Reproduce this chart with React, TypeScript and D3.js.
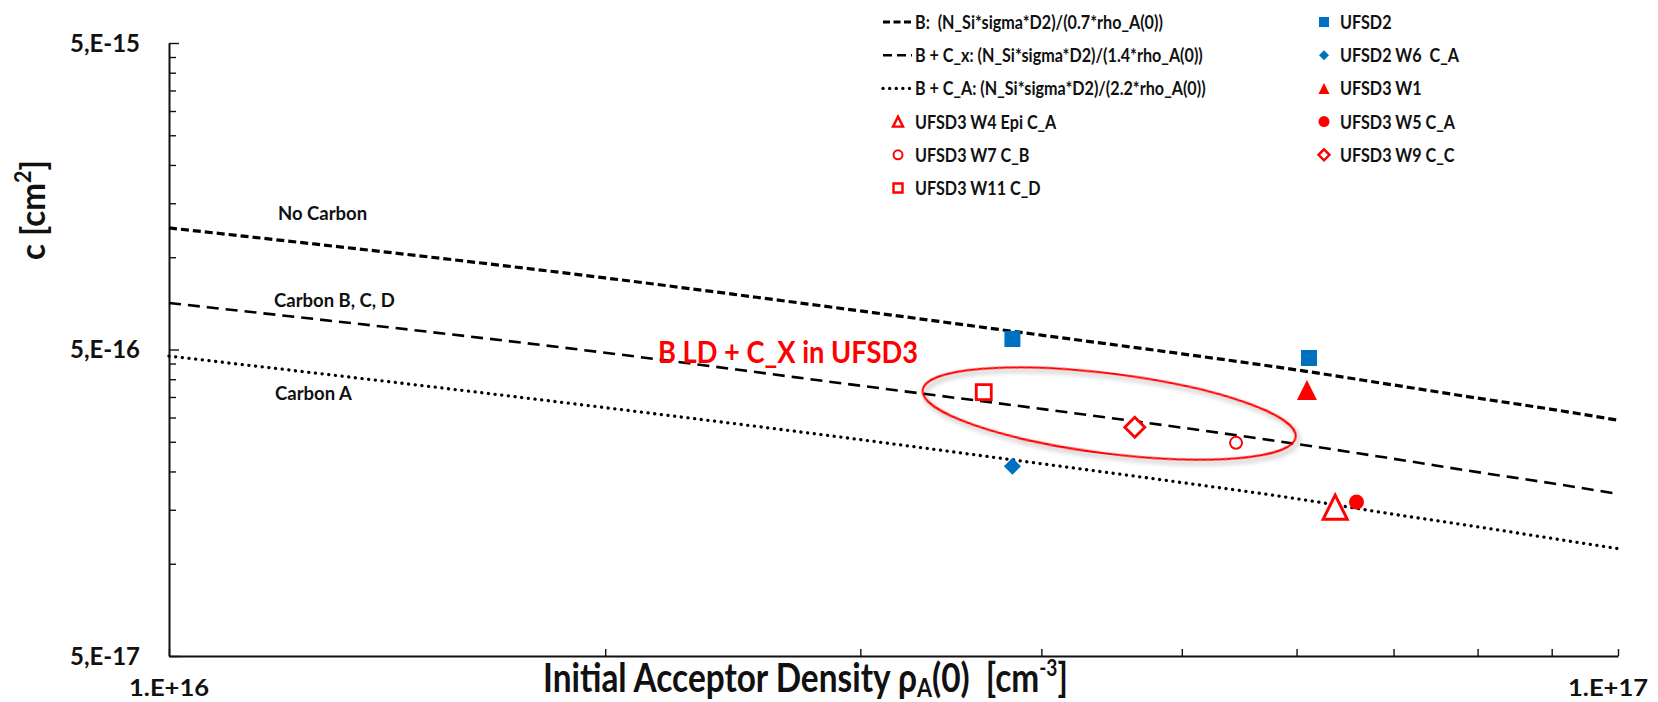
import React, { useEffect, useRef } from "react";
import * as d3 from "d3";

// model curves at these acceptor densities [cm^-3]
const rhoGrid = [1e16, 2e16, 3e16, 4e16, 5e16, 6e16, 7e16, 8e16, 9e16, 1e17];
const cNoCarbon = [1.246e-15, 8.56e-16, 6.68e-16, 5.57e-16, 4.84e-16, 4.29e-16, 3.83e-16, 3.47e-16, 3.19e-16, 2.94e-16];
const cCarbonBCD = [7.09e-16, 4.88e-16, 3.81e-16, 3.2e-16, 2.78e-16, 2.46e-16, 2.2e-16, 1.99e-16, 1.83e-16, 1.69e-16];
const cCarbonA = [4.76e-16, 3.23e-16, 2.54e-16, 2.12e-16, 1.84e-16, 1.63e-16, 1.45e-16, 1.32e-16, 1.21e-16, 1.12e-16];

const curveNames = [
    "B:  (N_Si*sigma*D2)/(0.7*rho_A(0))",
    "B + C_x: (N_Si*sigma*D2)/(1.4*rho_A(0))",
    "B + C_A: (N_Si*sigma*D2)/(2.2*rho_A(0))",
];
const curveLabels = ["No Carbon", "Carbon B, C, D", "Carbon A"];

// measured sensors
const seriesNames = [
    "UFSD2",
    "UFSD2 W6  C_A",
    "UFSD3 W1",
    "UFSD3 W4 Epi C_A",
    "UFSD3 W5 C_A",
    "UFSD3 W7 C_B",
    "UFSD3 W9 C_C",
    "UFSD3 W11 C_D",
];
const seriesRho = [[3.82e16, 6.12e16], [3.82e16], [6.1e16], [6.38e16], [6.6e16], [5.45e16], [4.64e16], [3.65e16]];
const seriesC = [[5.41e-16, 4.69e-16], [2.08e-16], [3.69e-16], [1.53e-16], [1.59e-16], [2.48e-16], [2.79e-16], [3.63e-16]];

// axes
const xDomain = [1e16, 1e17];
const xTickLabels = ["1.E+16", "1.E+17"];
const yMajorTicks = [5e-17, 5e-16, 5e-15];
const yTickLabels = ["5,E-17", "5,E-16", "5,E-15"];

// annotation
const noteText = "B LD + C_X in UFSD3";
const ellipseRho = 4.455e16;
const ellipseC = 3.09e-16;

const BLUE = "#0070C0";
const RED = "#FF0000";
const FONT = "Lato, 'Open Sans', sans-serif";

const curveStyle = [
    {width: 3.2, dash: "8 4", legendDash: "7 3.5", cap: "butt"},
    {width: 2.6, dash: "12 7", legendDash: "9 5", cap: "butt"},
    {width: 3.3, dash: "0.1 6.6", legendDash: "0.1 6.5", cap: "round"},
];

const markerStyle = [
    {shape: "square", color: BLUE, fill: true, size: 16, legend: 10, stroke: 0},
    {shape: "diamond", color: BLUE, fill: true, size: 17, legend: 10, stroke: 0},
    {shape: "triangle", color: RED, fill: true, size: 20, legend: 11, stroke: 0},
    {shape: "triangle", color: RED, fill: false, size: 24, legend: 10, stroke: 3},
    {shape: "circle", color: RED, fill: true, size: 15, legend: 11, stroke: 0},
    {shape: "circle", color: RED, fill: false, size: 12, legend: 9, stroke: 2},
    {shape: "diamond", color: RED, fill: false, size: 20, legend: 11, stroke: 2.8},
    {shape: "square", color: RED, fill: false, size: 15, legend: 9, stroke: 2.8},
];

function markerPath(shape: string, s: number) {
    let h = s / 2;
    if (shape === "square") return `M${-h},${-h}H${h}V${h}H${-h}Z`;
    if (shape === "diamond") return `M0,${-h}L${h},0L0,${h}L${-h},0Z`;
    if (shape === "triangle") return `M0,${-h}L${h},${h}L${-h},${h}Z`;
    return `M${-h},0A${h},${h} 0 1,0 ${h},0A${h},${h} 0 1,0 ${-h},0Z`;
}

function drawMarker(g: any, style: any, size: number, tx: number, ty: number) {
    g.append("path")
        .attr("d", markerPath(style.shape, size))
        .attr("transform", `translate(${tx},${ty})`)
        .attr("fill", style.fill ? style.color : "#fff")
        .attr("stroke", style.fill ? "none" : style.color)
        .attr("stroke-width", style.stroke);
}

// squeeze a text element to a given fraction of its natural width
function condense(sel: any, factor: number) {
    sel.each(function (this: any) {
        let len = this.getComputedTextLength();
        this.setAttribute("textLength", len * factor);
        this.setAttribute("lengthAdjust", "spacingAndGlyphs");
    });
}

export default function App() {
    const ref = useRef<SVGSVGElement>(null);

    useEffect(() => {
        let width = 1658;
        let height = 702;
        let plot = {left: 169, right: 1618, top: 43, bottom: 656};

        let svg = d3.select(ref.current);
        svg.selectAll("*").remove();

        let defs = svg.append("defs");
        let shadow = defs.append("filter")
            .attr("id", "shadow")
            .attr("x", "-20%").attr("y", "-60%")
            .attr("width", "140%").attr("height", "220%");
        shadow.append("feDropShadow")
            .attr("dx", 3).attr("dy", 3)
            .attr("stdDeviation", 2.5)
            .attr("flood-color", "#000")
            .attr("flood-opacity", 0.35);

        svg.append("rect").attr("width", width).attr("height", height).attr("fill", "#fff");

        // scales
        let x = d3.scaleLog().domain(xDomain).range([plot.left, plot.right]);
        let y = d3.scaleLog().domain([yMajorTicks[0], yMajorTicks[2]]).range([plot.bottom, plot.top]);

        // axis
        let xAxis = d3.axisBottom(x)
            .tickValues(x.ticks())
            .tickSizeInner(-7)
            .tickSizeOuter(0)
            .tickFormat(() => "");

        let yMinor = yMajorTicks.slice(0, 2).flatMap(m => d3.range(1, 10).map(k => m * k)).concat([yMajorTicks[2]]);
        let yAxis = d3.axisLeft(y)
            .tickValues(yMinor)
            .tickSizeInner(-7)
            .tickSizeOuter(0)
            .tickFormat(() => "");

        svg.append("g")
            .attr("transform", `translate(0,${plot.bottom})`)
            .call(xAxis)
            .call((g: any) => g.select(".domain").attr("stroke", "#111").attr("stroke-width", 2))
            .call((g: any) => g.selectAll(".tick line").attr("stroke", "#111").attr("stroke-width", 1.4));

        svg.append("g")
            .attr("transform", `translate(${plot.left},0)`)
            .call(yAxis)
            .call((g: any) => g.select(".domain").attr("stroke", "#111").attr("stroke-width", 2))
            .call((g: any) => g.selectAll(".tick line")
                .attr("stroke", "#111")
                .attr("stroke-width", 1.4)
                .attr("x2", (d: number) => yMajorTicks.includes(d) ? 10 : 7));

        // tick labels
        svg.append("g").selectAll("text")
            .data(yMajorTicks)
            .enter()
            .append("text")
            .attr("x", 140)
            .attr("y", d => y(d) + 8.5)
            .attr("text-anchor", "end")
            .attr("font-family", FONT)
            .attr("font-weight", "bold")
            .attr("font-size", 24)
            .attr("fill", "#111")
            .text((d, i) => yTickLabels[i])
            .attr("textLength", 70)
            .attr("lengthAdjust", "spacingAndGlyphs");

        svg.append("g").selectAll("text")
            .data(xDomain)
            .enter()
            .append("text")
            .attr("x", (d, i) => x(d) - i * 10)
            .attr("y", 696)
            .attr("text-anchor", "middle")
            .attr("font-family", FONT)
            .attr("font-weight", "bold")
            .attr("font-size", 23)
            .attr("fill", "#111")
            .text((d, i) => xTickLabels[i])
            .attr("textLength", 80)
            .attr("lengthAdjust", "spacingAndGlyphs");

        // x axis title
        let xTitle = svg.append("g").attr("transform", "translate(543,692)");
        let xt = xTitle.append("text")
            .attr("font-family", FONT)
            .attr("font-weight", "bold")
            .attr("font-size", 40)
            .attr("fill", "#111")
            .style("white-space", "pre");
        xt.append("tspan").text("Initial Acceptor Density \u03C1");
        xt.append("tspan").attr("font-size", 26).attr("dy", 5).text("A");
        xt.append("tspan").attr("dy", -5).text("(0)  [cm");
        xt.append("tspan").attr("font-size", 23).attr("dy", -16).text("-3");
        xt.append("tspan").attr("dy", 16).text("]");
        let xw = (xt.node() as any).getBBox().width;
        xTitle.attr("transform", `translate(543,692) scale(${525 / xw},1)`);

        // y axis title
        let yTitle = svg.append("g").attr("transform", "translate(45,210) rotate(-90)");
        let yt = yTitle.append("text")
            .attr("text-anchor", "middle")
            .attr("font-family", FONT)
            .attr("font-weight", "bold")
            .attr("font-size", 34)
            .attr("fill", "#111");
        yt.append("tspan").text("c [cm");
        yt.append("tspan").attr("font-size", 22).attr("dy", -14).text("2");
        yt.append("tspan").attr("dy", 14).text("]");
        let yw = (yt.node() as any).getBBox().width;
        yTitle.attr("transform", `translate(45,210) rotate(-90) scale(${100 / yw},1)`);

        // model curves
        let curves = [cNoCarbon, cCarbonBCD, cCarbonA];
        let line = d3.line<number>()
            .x((d, i) => x(rhoGrid[i]))
            .y(d => y(d))
            .curve(d3.curveMonotoneX);

        svg.append("g").selectAll("path")
            .data(curves)
            .enter()
            .append("path")
            .attr("d", d => line(d))
            .attr("fill", "none")
            .attr("stroke", "#000")
            .attr("stroke-width", (d, i) => curveStyle[i].width)
            .attr("stroke-dasharray", (d, i) => curveStyle[i].dash)
            .attr("stroke-linecap", (d, i) => curveStyle[i].cap);

        // curve labels
        let labelPos = [[278, 220], [274, 307], [275, 400]];
        svg.append("g").selectAll("text")
            .data(curveLabels)
            .enter()
            .append("text")
            .attr("x", (d, i) => labelPos[i][0])
            .attr("y", (d, i) => labelPos[i][1])
            .attr("font-family", FONT)
            .attr("font-weight", "bold")
            .attr("font-size", 18.5)
            .attr("fill", "#111")
            .text(d => d);

        // annotation
        svg.append("text")
            .attr("x", 658)
            .attr("y", 363)
            .attr("font-family", FONT)
            .attr("font-weight", "bold")
            .attr("font-size", 30)
            .attr("fill", RED)
            .text(noteText)
            .attr("textLength", 260)
            .attr("lengthAdjust", "spacingAndGlyphs");

        svg.append("ellipse")
            .attr("rx", 188)
            .attr("ry", 40)
            .attr("transform", `translate(${x(ellipseRho)},${y(ellipseC)}) rotate(7.2)`)
            .attr("fill", "none")
            .attr("stroke", RED)
            .attr("stroke-width", 2)
            .attr("filter", "url(#shadow)");

        // measured points
        let pts = svg.append("g");
        seriesNames.forEach((name, s) => {
            seriesRho[s].forEach((rho, j) => {
                drawMarker(pts, markerStyle[s], markerStyle[s].size, x(rho), y(seriesC[s][j]));
            });
        });

        // legend, two columns filled row by row
        let entries: any[] = [];
        curveNames.forEach((name, i) => {
            entries.push({type: "curve", name: name, i: i});
            entries.push({type: "series", name: seriesNames[i], i: i});
        });
        for (let s = 3; s < seriesNames.length; s++) entries.push({type: "series", name: seriesNames[s], i: s});

        let legend = svg.append("g");
        entries.forEach((e, k) => {
            let row = Math.floor(k / 2);
            let col = k % 2;
            let cy = 22 + row * 33.2;
            let mx = col === 0 ? 898 : 1324;
            let tx = col === 0 ? 915 : 1340;
            if (e.type === "curve") {
                legend.append("line")
                    .attr("x1", 883).attr("x2", 912)
                    .attr("y1", cy).attr("y2", cy)
                    .attr("stroke", "#000")
                    .attr("stroke-width", curveStyle[e.i].width)
                    .attr("stroke-dasharray", curveStyle[e.i].legendDash)
                    .attr("stroke-linecap", curveStyle[e.i].cap);
            } else {
                let st = markerStyle[e.i];
                drawMarker(legend, {...st, stroke: st.stroke ? Math.min(st.stroke, 2.4) : 0}, st.legend, mx, cy);
            }
            legend.append("text")
                .attr("x", tx)
                .attr("y", cy + 7)
                .attr("font-family", FONT)
                .attr("font-weight", "bold")
                .attr("font-size", 19)
                .attr("fill", "#111")
                .style("white-space", "pre")
                .text(e.name)
                .call((t: any) => condense(t, 0.85));
        });
    }, []);

    return (
        <svg ref={ref} width={1658} height={702}
             style={{position: "absolute", left: 0, top: 0, display: "block"}}></svg>
    );
}
